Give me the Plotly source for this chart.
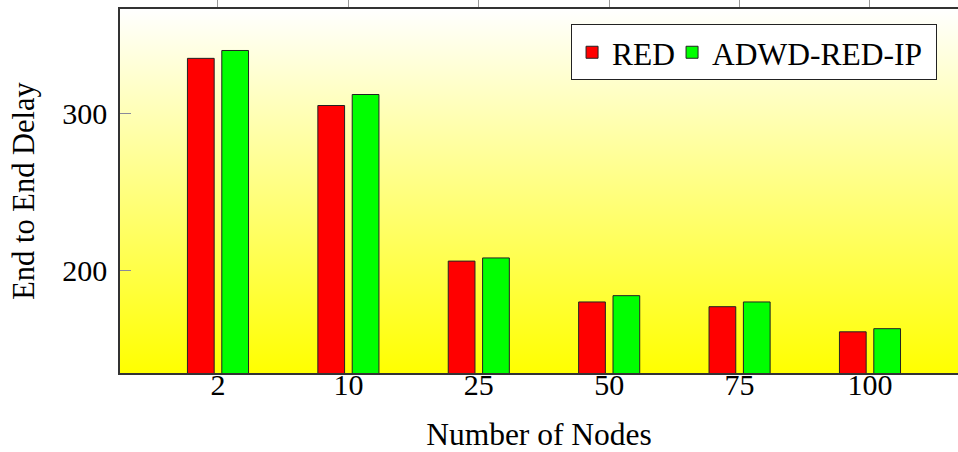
import base64
import plotly.graph_objects as go

categories = ["2", "10", "25", "50", "75", "100"]
red_values = [335, 305, 206, 180, 177, 161]
adwd_values = [340, 312, 208, 184, 180, 163]
y_ticks = [200, 300]

FONT = "Liberation Serif"
positions = list(range(len(categories)))

fig = go.Figure()
fig.add_trace(go.Bar(x=positions, y=red_values, name="RED", legendwidth=55,
                     marker=dict(color="#ff0000", line=dict(color="#222222", width=1))))
fig.add_trace(go.Bar(x=positions, y=adwd_values, name="ADWD-RED-IP", legendwidth=219,
                     marker=dict(color="#00ff00", line=dict(color="#222222", width=1))))
# empty helper trace so that the top (mirrored) axis is drawn
fig.add_trace(go.Scatter(x=[], y=[], xaxis="x2", yaxis="y", showlegend=False, hoverinfo="skip"))

svg = ('<svg xmlns="http://www.w3.org/2000/svg" width="100" height="100" preserveAspectRatio="none">'
       '<defs><linearGradient id="g" x1="0" y1="0" x2="0" y2="1">'
       '<stop offset="0" stop-color="#ffffff"/><stop offset="1" stop-color="#ffff00"/>'
       '</linearGradient></defs><rect width="100" height="100" fill="url(#g)"/></svg>')
src = "data:image/svg+xml;base64," + base64.b64encode(svg.encode()).decode()

xr = [-0.7515, 5.675]
f30 = dict(family=FONT, size=30, color="black")
f31 = dict(family=FONT, size=31.5, color="black")
fig.update_layout(
    width=958, height=452,
    margin=dict(l=120, r=0, t=9, b=79),
    paper_bgcolor="white", plot_bgcolor="rgba(0,0,0,0)",
    font=f30,
    barmode="group", bargap=0.473, bargroupgap=0.222,
    images=[dict(source=src, xref="paper", yref="paper", x=0, y=1, sizex=1, sizey=1,
                 xanchor="left", yanchor="top", sizing="stretch", layer="below")],
    xaxis=dict(range=xr, tickmode="array", tickvals=positions, ticktext=categories,
               showline=True, linecolor="#333333", linewidth=1.5, ticks="",
               showgrid=False, zeroline=False, automargin=False, ticklabelstandoff=-16,
               title=dict(text="Number of Nodes", standoff=34, font=f31),
               tickfont=f30),
    xaxis2=dict(range=xr, overlaying="x", side="top", matches="x", anchor="y",
                tickmode="array", tickvals=positions, showticklabels=False,
                ticks="outside", ticklen=9, tickcolor="#999999", tickwidth=1,
                showline=True, linecolor="#333333", linewidth=1.5,
                showgrid=False, zeroline=False, automargin=False),
    yaxis=dict(range=[134.8, 366.4], tickmode="array", tickvals=y_ticks,
               showline=True, linecolor="#333333", linewidth=1.5,
               ticks="inside", ticklen=11, tickcolor="#8a8a9a", tickwidth=1,
               showgrid=False, zeroline=False, automargin=False, ticklabelstandoff=5,
               title=dict(text="End to End Delay", standoff=19, font=dict(family=FONT, size=30.5)),
               tickfont=f30),
    legend=dict(orientation="h", x=0.975, xanchor="right", y=0.958, yanchor="top",
                bgcolor="white", bordercolor="#222222", borderwidth=1,
                font=f31, traceorder="normal", itemwidth=30),
)

fig.write_html("out.html", config={"displayModeBar": False},
               post_script="document.body.style.margin='0';document.body.style.overflow='hidden';")
